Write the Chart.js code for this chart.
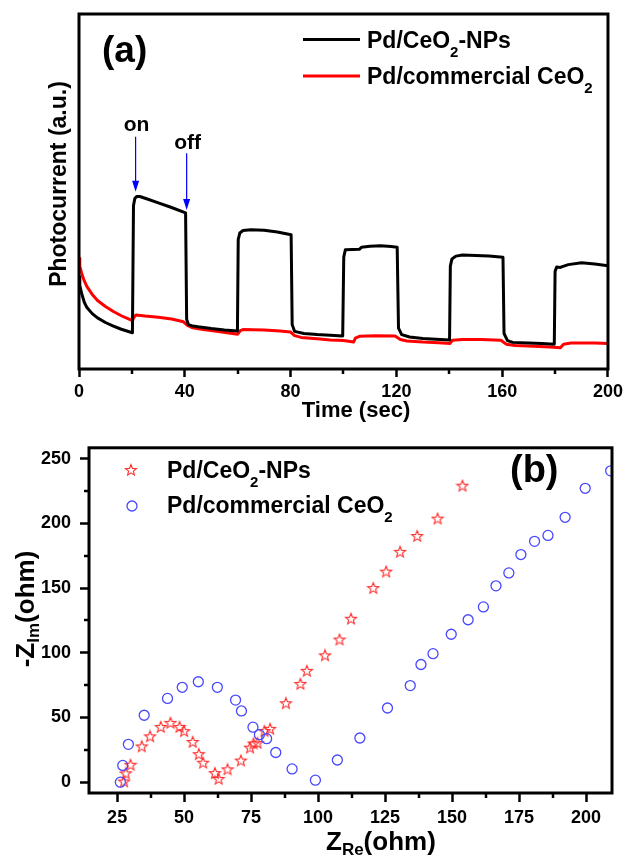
<!DOCTYPE html>
<html><head><meta charset="utf-8">
<script src="https://cdn.jsdelivr.net/npm/chart.js@4.4.0/dist/chart.umd.min.js"></script>
<style>
html,body{margin:0;padding:0;background:#fff;}
#wrap{position:relative;width:627px;height:857px;overflow:hidden;background:#fff;}
canvas{position:absolute;left:0;}
#ca{top:0;}
#cb{top:428px;}
</style></head><body>
<div id="wrap"><canvas id="ca" width="627" height="428"></canvas><canvas id="cb" width="627" height="429"></canvas></div>
<script>
// ---------- (a) photocurrent data ----------
const seriesNames = ['Pd/CeO2-NPs', 'Pd/commercial CeO2'];
const timeNP = [
  0, 0.3, 1, 2, 3, 5, 7, 10, 13, 16, 20.2,
  20.6, 21.1, 21.8, 23, 25, 30, 35, 40.3,
  40.7, 41.3, 42.5, 45, 50, 55, 59.9,
  60.2, 60.8, 62, 65, 70, 75, 80.2,
  80.6, 81.5, 85, 90, 95, 99.7,
  100.1, 100.7, 106, 106.8, 110, 114, 118, 120.3,
  120.8, 122, 125, 130, 135, 140.1,
  140.4, 141, 142.5, 145, 150, 155, 160.3,
  160.7, 162, 164, 170, 175, 179.7,
  180, 180.6, 182, 183, 185, 190, 195, 200
];
const currentNP = [
  26, 23.5, 21.3, 18.8, 17.3, 15.6, 14.4, 13.1, 12.1, 11.2, 10.2,
  46, 48, 48.6, 48.6, 48.1, 46.8, 45.5, 44.0,
  14, 12.6, 12.2, 11.9, 11.4, 11.0, 10.7,
  36.5, 38.3, 39.0, 39.2, 39.1, 38.6, 37.8,
  12.5, 10.6, 10.0, 9.7, 9.5, 9.3,
  31.5, 33.6, 33.7, 34.3, 34.6, 34.7, 34.5, 34.3,
  11.5, 9.7, 9.0, 8.6, 8.4, 8.2,
  29, 31, 31.8, 32.1, 32.0, 31.8, 31.5,
  10, 8.0, 7.5, 7.3, 7.2, 7.0,
  27.5, 28.7, 28.6, 28.9, 29.4, 29.9, 29.6, 29.1
];
const timeCom = [0, 0.3, 1, 2, 3, 5, 7, 10, 13, 16, 20.2, 20.8, 21.5, 25, 30, 35, 39.5, 41, 43, 47,
  52, 56, 60, 61, 62, 70, 76, 80, 81.5, 84, 90, 95, 100, 103.8, 104.5, 106, 112, 119.5, 121.5, 124,
  130, 136, 140.2, 141.2, 145, 152, 159.5, 161.5, 165, 172, 178, 182, 183.2, 186, 195, 200];
const currentCom = [31.2, 29, 27, 24.8, 23.2, 21, 19.3, 17.6, 16.2, 15, 13.6, 14.6, 15.2, 14.9, 14.6, 14.1, 13.3, 12.3, 11.6, 11.1,
  10.6, 10.2, 9.8, 10.8, 11.1, 11.0, 10.7, 10.4, 9.4, 8.9, 8.5, 8.2, 8.0, 7.6, 8.7, 9.2, 9.4, 9.3, 8.3, 7.9,
  7.6, 7.4, 7.2, 8.1, 8.3, 8.3, 8.1, 7.0, 6.6, 6.4, 6.2, 6.0, 7.0, 7.3, 7.3, 7.2];
const xTicksA = [0, 40, 80, 120, 160, 200];
const xMinorA = [20, 60, 100, 140, 180];

// ---------- (b) impedance data ----------
const zReNP = [27.6, 28.2, 30.0, 34.2, 37.3, 41.3, 44.9, 48.3, 50.0, 53.2, 55.5, 57.1, 61.5, 62.9, 66.2, 71.2, 74.6, 75.9, 77.4, 80.0, 82.1, 88.0, 93.4, 95.8, 102.6, 108.0, 112.3, 120.6, 125.4, 130.6, 137.0, 144.6, 153.9];
const zImNP = [0.5, 6.8, 13.4, 27.6, 35.4, 42.7, 45.8, 42.7, 39.4, 31.1, 21.6, 15.0, 7.0, 2.5, 9.9, 16.7, 26.7, 29.9, 30.3, 39.5, 41.2, 61.0, 75.9, 86.0, 98.0, 110.2, 126.3, 150.0, 162.7, 178.0, 190.2, 203.7, 229.1];
const zReCom = [26.2, 27.1, 29.2, 35.1, 43.8, 49.3, 55.3, 62.4, 69.2, 71.4, 75.7, 78.1, 80.8, 84.2, 90.3, 99.0, 107.2, 115.6, 125.9, 134.4, 138.4, 142.9, 149.7, 156.0, 161.7, 166.4, 171.2, 175.7, 180.8, 185.8, 192.2, 199.7, 209.2];
const zImCom = [0, 12.9, 29.2, 51.7, 64.7, 73.3, 77.6, 73.3, 63.4, 55.0, 42.5, 36.7, 33.6, 22.9, 10.2, 1.5, 17.1, 34.1, 57.3, 74.6, 90.9, 99.3, 114.3, 125.5, 135.4, 151.7, 161.7, 175.9, 186.1, 190.7, 204.7, 227.1, 240.6];
const xTicksB = [25, 50, 75, 100, 125, 150, 175, 200];
const xMinorB = [37.5, 62.5, 87.5, 112.5, 137.5, 162.5, 187.5];
const yTicksB = [0, 50, 100, 150, 200, 250];
const yMinorB = [25, 75, 125, 175, 225];

const FF = '"Liberation Sans", Arial, Helvetica, sans-serif';
const pairs = (xs, ys) => xs.map((x, i) => ({x: x, y: ys[i]}));

// star marker image (5-pointed outline)
function makeStar(color) {
  const c = document.createElement('canvas');
  c.width = 14; c.height = 14;
  const g = c.getContext('2d');
  g.strokeStyle = color; g.lineWidth = 1.1; g.lineJoin = 'miter';
  g.beginPath();
  for (let i = 0; i < 10; i++) {
    const a = -Math.PI / 2 + i * Math.PI / 5;
    const r = (i % 2) ? 2.5 : 5.8;
    const px = 7 + r * Math.cos(a), py = 7.4 + r * Math.sin(a);
    if (i === 0) g.moveTo(px, py); else g.lineTo(px, py);
  }
  g.closePath(); g.stroke();
  return c;
}
const starImg = makeStar('#ff2a2a');
const circleColor = '#4848ff';

function parts(ctx, list, x, y) {
  let cx = x;
  for (const p of list) {
    ctx.font = 'bold ' + p.s + 'px ' + FF;
    ctx.fillText(p.t, cx, y + (p.dy || 0));
    cx += ctx.measureText(p.t).width;
  }
}
function partsWidth(ctx, list) {
  let w = 0;
  for (const p of list) { ctx.font = 'bold ' + p.s + 'px ' + FF; w += ctx.measureText(p.t).width; }
  return w;
}
function frameAndMinor(chart, minorX, minorY, lenX, lenY) {
  const ctx = chart.ctx, a = chart.chartArea;
  ctx.save();
  ctx.strokeStyle = '#000'; ctx.lineWidth = 2.5; ctx.lineCap = 'butt';
  const xs = chart.scales.x, ys = chart.scales.y;
  ctx.beginPath();
  for (const v of minorX) { const p = Math.round(xs.getPixelForValue(v)); ctx.moveTo(p, a.bottom); ctx.lineTo(p, a.bottom + lenX); }
  for (const v of minorY) { const p = Math.round(ys.getPixelForValue(v)); ctx.moveTo(a.left, p); ctx.lineTo(a.left - lenY, p); }
  ctx.stroke();
  ctx.lineWidth = 3;
  ctx.strokeRect(a.left, a.top, a.right - a.left, a.bottom - a.top);
  ctx.restore();
}

// annotation events for (a): arrow tops/tips in data units
const lightEvents = [
  {label: 'on', t: 21.4, textV: 67.1, fromV: 65.4, tipV: 49.9},
  {label: 'off', t: 40.7, textV: 61.9, fromV: 60.8, tipV: 44.8}
];

const pluginA = {
  id: 'decorA',
  afterDraw(chart) {
    const ctx = chart.ctx;
    frameAndMinor(chart, xMinorA, [], 5, 0);
    const xs = chart.scales.x, ys = chart.scales.y;
    ctx.save();
    // arrows
    for (const e of lightEvents) {
      const x = xs.getPixelForValue(e.t);
      const y1 = ys.getPixelForValue(e.fromV), y2 = ys.getPixelForValue(e.tipV);
      ctx.strokeStyle = '#0000ff'; ctx.fillStyle = '#0000ff'; ctx.lineWidth = 1.2;
      ctx.beginPath(); ctx.moveTo(x, y1); ctx.lineTo(x, y2 - 9); ctx.stroke();
      ctx.beginPath(); ctx.moveTo(x - 3.5, y2 - 11); ctx.lineTo(x + 3.5, y2 - 11); ctx.lineTo(x, y2); ctx.closePath(); ctx.fill();
      ctx.fillStyle = '#000'; ctx.textAlign = 'center'; ctx.textBaseline = 'alphabetic';
      ctx.font = 'bold 21px ' + FF;
      ctx.fillText(e.label, x + 1, ys.getPixelForValue(e.textV));
    }
    ctx.fillStyle = '#000'; ctx.textBaseline = 'alphabetic';
    // (a)
    ctx.textAlign = 'left'; ctx.font = 'bold 37px ' + FF;
    ctx.fillText('(a)', 102, 62);
    // legend
    ctx.lineWidth = 3; ctx.lineCap = 'butt';
    ctx.strokeStyle = '#000'; ctx.beginPath(); ctx.moveTo(303, 39.5); ctx.lineTo(360, 39.5); ctx.stroke();
    ctx.strokeStyle = '#ff0000'; ctx.beginPath(); ctx.moveTo(303, 76); ctx.lineTo(360, 76); ctx.stroke();
    parts(ctx, [{t: 'Pd/CeO', s: 23}, {t: '2', s: 15, dy: 9}, {t: '-NPs', s: 23}], 367, 47.5);
    parts(ctx, [{t: 'Pd/commercial CeO', s: 23}, {t: '2', s: 15, dy: 9}], 367, 83.5);
    // axis titles
    ctx.textAlign = 'center'; ctx.font = 'bold 22px ' + FF;
    ctx.fillText('Time (sec)', 356, 417);
    ctx.save(); ctx.translate(66, 184); ctx.rotate(-Math.PI / 2);
    ctx.font = 'bold 23px ' + FF; ctx.fillText('Photocurrent (a.u.)', 0, 0);
    ctx.restore();
    ctx.restore();
  }
};

const pluginB = {
  id: 'decorB',
  afterDraw(chart) {
    const ctx = chart.ctx;
    frameAndMinor(chart, xMinorB, yMinorB, 5, 5);
    ctx.save();
    ctx.fillStyle = '#000'; ctx.textBaseline = 'alphabetic'; ctx.textAlign = 'left';
    ctx.font = 'bold 38px ' + FF; ctx.fillText('(b)', 510, 54);
    // legend
    ctx.drawImage(starImg, 131 - 7, 42 - 7);
    ctx.strokeStyle = circleColor; ctx.lineWidth = 1.3;
    ctx.beginPath(); ctx.arc(132, 78, 5, 0, Math.PI * 2); ctx.stroke();
    parts(ctx, [{t: 'Pd/CeO', s: 23}, {t: '2', s: 15, dy: 9}, {t: '-NPs', s: 23}], 167, 50);
    parts(ctx, [{t: 'Pd/commercial CeO', s: 23}, {t: '2', s: 15, dy: 9}], 167, 85);
    // x title
    parts(ctx, [{t: 'Z', s: 26}, {t: 'Re', s: 17, dy: 5}, {t: '(ohm)', s: 26}], 326, 422);
    // y title rotated
    const yl = [{t: '-Z', s: 26}, {t: 'Im', s: 17, dy: 5}, {t: '(ohm)', s: 26}];
    const w = partsWidth(ctx, yl);
    ctx.save(); ctx.translate(34, 609 - 428); ctx.rotate(-Math.PI / 2);
    parts(ctx, yl, -w / 2, 0);
    ctx.restore();
    ctx.restore();
  }
};

const tickFont = {family: FF, size: 18, weight: 'bold'};

new Chart(document.getElementById('ca'), {
  type: 'scatter',
  data: {datasets: [
    {label: seriesNames[0], data: pairs(timeNP, currentNP), showLine: true, borderColor: '#000', borderWidth: 3, pointRadius: 0, tension: 0, borderJoinStyle: 'round'},
    {label: seriesNames[1], data: pairs(timeCom, currentCom), showLine: true, borderColor: '#ff0000', borderWidth: 3, pointRadius: 0, tension: 0, borderJoinStyle: 'round'}
  ]},
  options: {
    responsive: false, animation: false, devicePixelRatio: 1,
    layout: {padding: {left: 0, top: 14, right: 16, bottom: 0}},
    plugins: {legend: {display: false}, tooltip: {enabled: false}},
    scales: {
      x: {type: 'linear', min: 0, max: 200, bounds: 'data',
        afterBuildTicks: s => { s.ticks = xTicksA.map(v => ({value: v})); },
        afterFit: s => { s.height = 59; },
        ticks: {autoSkip: false, maxRotation: 0, padding: 4, color: '#000', font: tickFont},
        grid: {drawOnChartArea: false, drawTicks: true, tickLength: 8, tickWidth: 2.5, tickColor: '#000', color: '#000'},
        border: {display: false}},
      y: {type: 'linear', min: 0, max: 100, bounds: 'data',
        afterFit: s => { s.width = 79; },
        ticks: {display: false}, grid: {display: false}, border: {display: false}}
    }
  },
  plugins: [pluginA]
});

new Chart(document.getElementById('cb'), {
  type: 'scatter',
  data: {datasets: [
    {label: seriesNames[0], data: pairs(zReNP, zImNP), pointStyle: starImg, pointRadius: 6, order: 1},
    {label: seriesNames[1], data: pairs(zReCom, zImCom), pointStyle: 'circle', pointRadius: 5, borderWidth: 1.3, borderColor: circleColor, backgroundColor: 'rgba(0,0,0,0)', order: 0}
  ]},
  options: {
    responsive: false, animation: false, devicePixelRatio: 1,
    layout: {padding: {left: 0, top: 15, right: 15, bottom: 0}},
    plugins: {legend: {display: false}, tooltip: {enabled: false}},
    elements: {point: {hoverRadius: 5}},
    scales: {
      x: {type: 'linear', min: 14.5, max: 209.7, bounds: 'data',
        afterBuildTicks: s => { s.ticks = xTicksB.map(v => ({value: v})); },
        afterFit: s => { s.height = 64; },
        ticks: {autoSkip: false, maxRotation: 0, padding: 5, color: '#000', font: tickFont},
        grid: {drawOnChartArea: false, drawTicks: true, tickLength: 9, tickWidth: 2.5, tickColor: '#000', color: '#000'},
        border: {display: false}},
      y: {type: 'linear', min: -8.4, max: 258.4, bounds: 'data',
        afterBuildTicks: s => { s.ticks = yTicksB.map(v => ({value: v})); },
        afterFit: s => { s.width = 89; },
        ticks: {autoSkip: false, padding: 9, color: '#000', font: tickFont},
        grid: {drawOnChartArea: false, drawTicks: true, tickLength: 9, tickWidth: 2.5, tickColor: '#000', color: '#000'},
        border: {display: false}}
    }
  },
  plugins: [pluginB]
});
</script>
</body></html>
